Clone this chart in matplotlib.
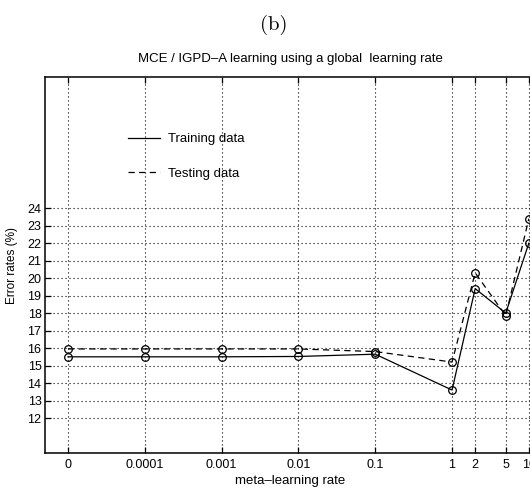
import matplotlib
matplotlib.use("Agg")
import matplotlib.pyplot as plt
from matplotlib.lines import Line2D

# Данные графика
rates = [0, 0.0001, 0.001, 0.01, 0.1, 1, 2, 5, 10]
rate_labels = ["0", "0.0001", "0.001", "0.01", "0.1", "1", "2", "5", "10"]
train_err = [15.5, 15.5, 15.5, 15.52, 15.65, 13.6, 19.4, 18.0, 22.0]
test_err = [15.95, 15.95, 15.95, 15.95, 15.8, 15.2, 20.3, 17.85, 23.4]
y_ticks = list(range(12, 25))

# "0" на лог-оси ставим на место 1e-5
ZERO_POS = 1e-5
xpos = [r if r > 0 else ZERO_POS for r in rates]

plt.rcParams['font.family'] = ['Liberation Sans', 'DejaVu Sans']

fig = plt.figure(figsize=(5.30, 4.93), dpi=100)
ax = fig.add_axes([45 / 530, 40 / 493, 490 / 530, 376 / 493])

grid_style = dict(color='black', linestyle=(0, (1, 2.6)), linewidth=0.8, zorder=0)
for x in xpos:
    ax.axvline(x, **grid_style)
for y in y_ticks:
    ax.axhline(y, **grid_style)

ax.plot(xpos, train_err, color='black', linestyle='-', linewidth=0.9,
        marker='o', markersize=5.5, markerfacecolor='none', markeredgewidth=0.9)
ax.plot(xpos, test_err, color='black', linestyle=(0, (5, 3.5)), linewidth=0.9,
        marker='o', markersize=5.5, markerfacecolor='none', markeredgewidth=0.9)

ax.set_xscale('log')
ax.set_xlim(10 ** -5.3, 10 ** 1.08)
ax.set_ylim(10, 31.5)
ax.set_xticks(xpos)
ax.set_xticklabels(rate_labels)
ax.xaxis.set_minor_locator(matplotlib.ticker.NullLocator())
ax.set_yticks(y_ticks)
ax.set_yticklabels([str(v) for v in y_ticks])
ax.tick_params(axis='both', direction='in', length=4, width=0.9, labelsize=9,
               top=True, right=True)
ax.tick_params(axis='y', pad=2.5)
ax.tick_params(axis='x', pad=4.5)
for side in ['left', 'bottom', 'top', 'right']:
    ax.spines[side].set_linewidth(1.1)

ax.set_xlabel('meta\u2013learning rate', fontsize=9.5, labelpad=3)
ax.set_ylabel('Error rates (%)', fontsize=8.5)
ax.yaxis.set_label_coords(-0.055, 0.5)
ax.set_title('MCE / IGPD\u2013A learning using a global  learning rate', fontsize=9.5, pad=11)

handles = [
    Line2D([], [], color='black', linestyle='-', linewidth=0.9),
    Line2D([], [], color='black', linestyle=(0, (5, 3.5)), linewidth=0.9),
]
ax.legend(handles, ['Training data', 'Testing data'], loc='upper left',
          bbox_to_anchor=(128 / 530, 1 - 133 / 493), bbox_transform=fig.transFigure,
          frameon=False, fontsize=9.5, handlelength=2.4, handletextpad=0.6,
          labelspacing=1.7, borderpad=0, borderaxespad=0)

fig.text(274 / 530, 1 - 25 / 493, '(b)', family='cmr10', fontsize=15,
         ha='center', va='center')

fig.savefig('out.png', dpi=100)
